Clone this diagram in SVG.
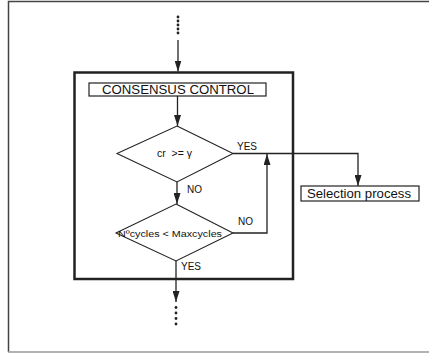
<svg xmlns="http://www.w3.org/2000/svg" width="429" height="353" viewBox="0 0 429 353">
  <style>
    .frame { fill: none; stroke: #444; stroke-width: 1.5; }
    .bottom { stroke: #999; stroke-width: 1.5; }
    .ctl { fill: none; stroke: #222; stroke-width: 2.5; }
    .box { fill: #fff; stroke: #222; stroke-width: 1.2; }
    .dia { fill: #fff; stroke: #222; stroke-width: 1.1; }
    .wire { fill: none; stroke: #222; stroke-width: 1.3; }
    .lbl { font-family: "Liberation Sans", Arial, sans-serif; fill: #111; }
    .dot { fill: #222; }
  </style>
  <defs>
    <marker id="arrow" viewBox="0 0 11 7" refX="11" refY="3.5" markerWidth="11" markerHeight="7" markerUnits="userSpaceOnUse" orient="auto">
      <path d="M0,0 L11,3.5 L0,7 Z" fill="#222"/>
    </marker>
  </defs>

  <!-- page frame -->
  <path class="frame" d="M8.5,352 L8.5,1.5 L429,1.5"/>
  <line class="bottom" x1="8" y1="352" x2="429" y2="352"/>

  <!-- control block -->
  <rect class="ctl" x="74.5" y="72.5" width="218.5" height="206.5"/>

  <g id="consensus-control">
    <rect class="box" x="89" y="83" width="177" height="13"/>
    <text class="lbl" x="178" y="94.2" font-size="12.3" text-anchor="middle" textLength="152" lengthAdjust="spacingAndGlyphs">CONSENSUS CONTROL</text>
  </g>

  <g id="decision-cr">
    <polygon class="dia" points="177,126 233,153.5 177,182 117,153.5"/>
    <text class="lbl" x="174.5" y="157" font-size="10" text-anchor="middle" textLength="35" lengthAdjust="spacingAndGlyphs" xml:space="preserve">cr  &gt;= γ</text>
  </g>

  <g id="decision-cycles">
    <polygon class="dia" points="176,204 233,233 176,261 116,233"/>
    <text class="lbl" x="170" y="236.8" font-size="9.6" text-anchor="middle" textLength="104" lengthAdjust="spacingAndGlyphs">Nºcycles &lt; Maxcycles</text>
  </g>

  <g id="selection-process">
    <rect class="box" x="301" y="186" width="118" height="15"/>
    <text class="lbl" x="359" y="198" font-size="12.5" text-anchor="middle" textLength="104" lengthAdjust="spacingAndGlyphs">Selection process</text>
  </g>

  <g id="connectors">
    <!-- entry -->
    <line class="wire" x1="178" y1="40" x2="178" y2="71.5" marker-end="url(#arrow)"/>
    <line class="wire" x1="177.5" y1="96" x2="177.5" y2="126" marker-end="url(#arrow)"/>
    <!-- cr NO branch -->
    <line class="wire" x1="177" y1="182" x2="177" y2="204" marker-end="url(#arrow)"/>
    <!-- cr YES branch to selection -->
    <path class="wire" d="M233,153.5 L358,153.5 L358,186" marker-end="url(#arrow)"/>
    <!-- cycles NO loop back -->
    <path class="wire" d="M233,233 L267,233 L267,154" marker-end="url(#arrow)"/>
    <!-- cycles YES exit -->
    <line class="wire" x1="176" y1="261" x2="176" y2="302" marker-end="url(#arrow)"/>
  </g>

  <!-- continuation dots -->
  <g id="dots-top" class="dot">
    <circle cx="178" cy="17" r="1.4"/>
    <circle cx="178" cy="21" r="1.4"/>
    <circle cx="178" cy="25" r="1.4"/>
    <circle cx="178" cy="29" r="1.4"/>
    <circle cx="178" cy="33" r="1.4"/>
  </g>
  <g id="dots-bottom" class="dot">
    <circle cx="176" cy="307.5" r="1.4"/>
    <circle cx="176" cy="313" r="1.4"/>
    <circle cx="176" cy="318.5" r="1.4"/>
    <circle cx="176" cy="324" r="1.4"/>
  </g>

  <!-- branch labels -->
  <text class="lbl" x="237" y="150" font-size="10">YES</text>
  <text class="lbl" x="187" y="193" font-size="10">NO</text>
  <text class="lbl" x="238" y="225" font-size="10">NO</text>
  <text class="lbl" x="181" y="270" font-size="10">YES</text>
</svg>
